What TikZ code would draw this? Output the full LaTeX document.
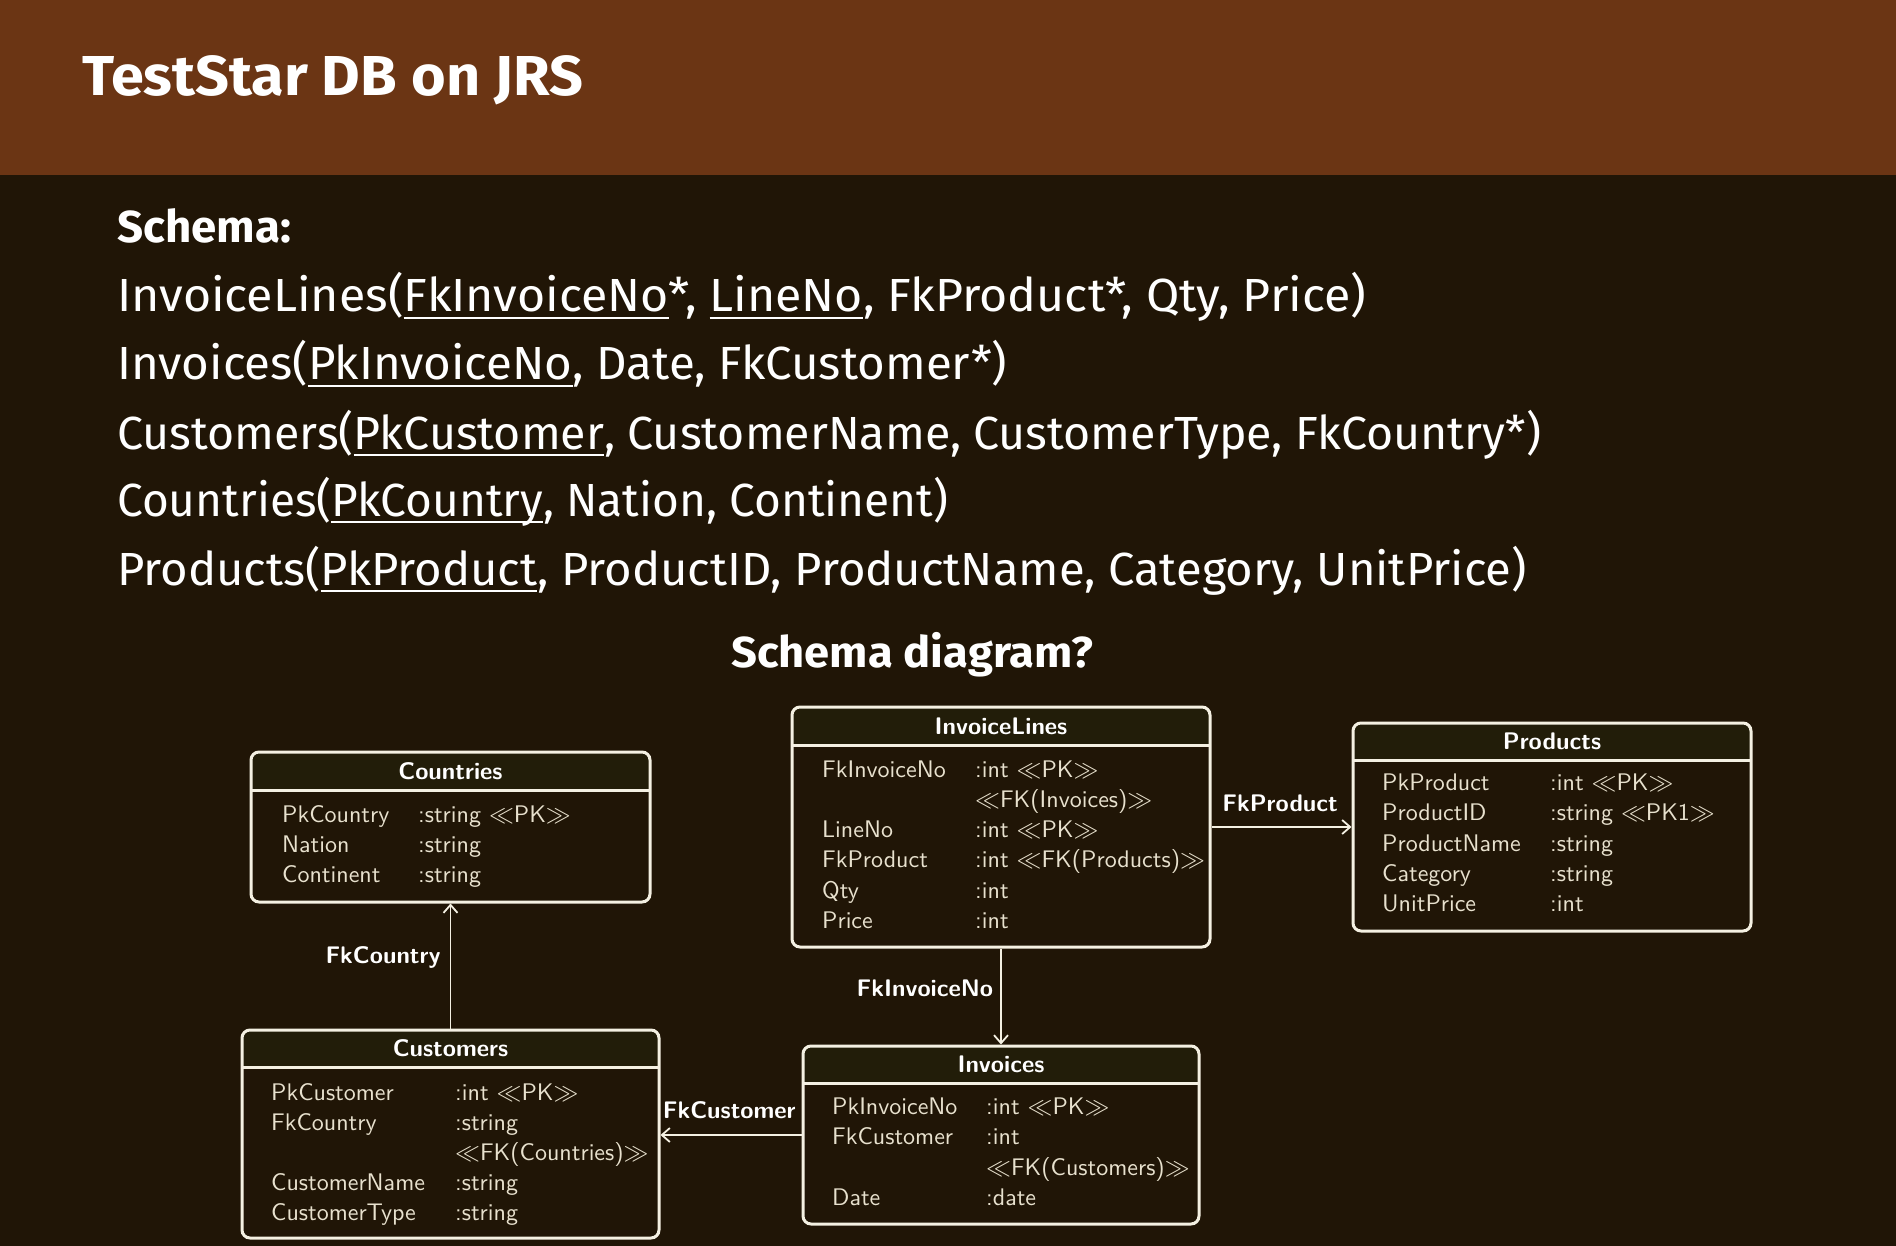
\documentclass[tikz,border=0pt]{standalone}
\usepackage{fontspec}
\usepackage{graphicx}
\newfontfamily\comic{Fira Sans}
\setsansfont{lmsans10-regular.otf}[BoldFont=lmsans10-bold.otf]
\usetikzlibrary{arrows.meta}
\definecolor{bgdark}{HTML}{201506}
\definecolor{band}{HTML}{6B3514}
\definecolor{hdrfill}{HTML}{221D09}
\definecolor{ink}{HTML}{F4F0E2}
\definecolor{attr}{HTML}{E8E1CE}
\newcommand\capfit[3]{\resizebox{#1}{#2}{\raisebox{0pt}[\fontcharht\font`I][0pt]{#3}}}
\newcommand\ulin[1]{\setbox0\hbox{#1}\rlap{\rule[-0.14em]{\wd0}{0.04em}}\box0}
\newcommand\pk{$\ll$PK$\gg$}
\tikzset{
  comictxt/.style={anchor=base west, inner sep=0pt, text=white},
  tblframe/.style={draw=ink, line width=3pt, rounded corners=8pt, inner sep=0pt},
  sepline/.style={draw=ink, line width=3pt},
  tbltitle/.style={anchor=base, inner sep=0pt, text=white, font=\fontsize{24pt}{30pt}\selectfont\sffamily\bfseries},
  attrtxt/.style={anchor=base west, inner sep=0pt, text=attr, font=\fontsize{24pt}{30pt}\selectfont\sffamily},
  fklabel/.style={inner sep=0pt, text=white, font=\fontsize{24pt}{30pt}\selectfont\sffamily\bfseries},
  fk/.style={draw=ink, line width=1.8pt, -{Straight Barb[length=8pt,width=14pt]}},
}
\newcommand\dbbox[7]{%
  \begin{scope}
    \clip[rounded corners=8pt] (#2,#3) rectangle (#4,#5);
    \fill[hdrfill] (#2,#3) rectangle (#4,#6);
  \end{scope}
  \draw[sepline] (#2,#6) -- (#4,#6);
  \node[tblframe, minimum width={#4-#2}, minimum height={#5-#3}] (#1) at ({(#2+#4)/2},{(#3+#5)/2}) {};
  \node[tbltitle] (#1-title) at ({(#2+#4)/2},{(#3+#6)/2+8}) {#7};
}
\begin{document}
\begin{tikzpicture}[x=1pt,y=-1pt]
\useasboundingbox (0,0) rectangle (1896,1246);
\fill[bgdark] (0,0) rectangle (1896,1246);
\fill[band] (0,0) rectangle (1896,175);

\node[comictxt] (title) at (82,96) {\comic\bfseries\capfit{501pt}{39pt}{TestStar DB on JRS}};
\node[comictxt] (schema) at (117,243) {\comic\bfseries\capfit{174pt}{31pt}{Schema:}};
\node[comictxt] (s1) at (117,312) {\comic\capfit{1249pt}{32pt}{InvoiceLines(\ulin{FkInvoiceNo}*, \ulin{LineNo}, FkProduct*, Qty, Price)}};
\node[comictxt] (s2) at (117,380) {\comic\capfit{890pt}{32pt}{Invoices(\ulin{PkInvoiceNo}, Date, FkCustomer*)}};
\node[comictxt] (s3) at (117,449) {\comic\capfit{1424pt}{32pt}{Customers(\ulin{PkCustomer}, CustomerName, CustomerType, FkCountry*)}};
\node[comictxt] (s4) at (117,516) {\comic\capfit{831pt}{32pt}{Countries(\ulin{PkCountry}, Nation, Continent)}};
\node[comictxt] (s5) at (117,585) {\comic\capfit{1409pt}{32pt}{Products(\ulin{PkProduct}, ProductID, ProductName, Category, UnitPrice)}};
\node[comictxt] (sdiag) at (731,667) {\comic\bfseries\capfit{362pt}{30pt}{Schema diagram?}};

% Countries
\dbbox{cty}{251}{752}{650}{902}{790}{Countries}
\node[attrtxt] (cty-a1) at (282,822) {PkCountry};
\node[attrtxt] (cty-t1) at (418,822) {:string \pk};
\node[attrtxt] (cty-a2) at (282,852) {Nation};
\node[attrtxt] (cty-t2) at (418,852) {:string};
\node[attrtxt] (cty-a3) at (282,882) {Continent};
\node[attrtxt] (cty-t3) at (418,882) {:string};

% InvoiceLines
\dbbox{il}{792}{707}{1210}{947}{745}{InvoiceLines}
\node[attrtxt] (il-a1) at (822,777) {FkInvoiceNo};
\node[attrtxt] (il-t1) at (975,777) {:int \pk};
\node[attrtxt] (il-t1b) at (975,807) {$\ll$FK(Invoices)$\gg$};
\node[attrtxt] (il-a2) at (822,837) {LineNo};
\node[attrtxt] (il-t2) at (975,837) {:int \pk};
\node[attrtxt] (il-a3) at (822,867) {FkProduct};
\node[attrtxt] (il-t3) at (975,867) {:int $\ll$FK(Products)$\gg$};
\node[attrtxt] (il-a4) at (822,898) {Qty};
\node[attrtxt] (il-t4) at (975,898) {:int};
\node[attrtxt] (il-a5) at (822,928) {Price};
\node[attrtxt] (il-t5) at (975,928) {:int};

% Products
\dbbox{prod}{1353}{723}{1751}{931}{760}{Products}
\node[attrtxt] (prod-a1) at (1382,790) {PkProduct};
\node[attrtxt] (prod-t1) at (1550,790) {:int \pk};
\node[attrtxt] (prod-a2) at (1382,820) {ProductID};
\node[attrtxt] (prod-t2) at (1550,820) {:string $\ll$PK1$\gg$};
\node[attrtxt] (prod-a3) at (1382,851) {ProductName};
\node[attrtxt] (prod-t3) at (1550,851) {:string};
\node[attrtxt] (prod-a4) at (1382,881) {Category};
\node[attrtxt] (prod-t4) at (1550,881) {:string};
\node[attrtxt] (prod-a5) at (1382,911) {UnitPrice};
\node[attrtxt] (prod-t5) at (1550,911) {:int};

% Customers
\dbbox{cust}{242}{1030}{659}{1238}{1067}{Customers}
\node[attrtxt] (cust-a1) at (271,1100) {PkCustomer};
\node[attrtxt] (cust-t1) at (455,1100) {:int \pk};
\node[attrtxt] (cust-a2) at (271,1130) {FkCountry};
\node[attrtxt] (cust-t2) at (455,1130) {:string};
\node[attrtxt] (cust-t2b) at (455,1160) {$\ll$FK(Countries)$\gg$};
\node[attrtxt] (cust-a3) at (271,1190) {CustomerName};
\node[attrtxt] (cust-t3) at (455,1190) {:string};
\node[attrtxt] (cust-a4) at (271,1220) {CustomerType};
\node[attrtxt] (cust-t4) at (455,1220) {:string};

% Invoices
\dbbox{inv}{803}{1046}{1199}{1224}{1083}{Invoices}
\node[attrtxt] (inv-a1) at (832,1114) {PkInvoiceNo};
\node[attrtxt] (inv-t1) at (986,1114) {:int \pk};
\node[attrtxt] (inv-a2) at (832,1144) {FkCustomer};
\node[attrtxt] (inv-t2) at (986,1144) {:int};
\node[attrtxt] (inv-t2b) at (986,1175) {$\ll$FK(Customers)$\gg$};
\node[attrtxt] (inv-a3) at (832,1205) {Date};
\node[attrtxt] (inv-t3) at (986,1205) {:date};

% connectors
\draw[fk] (cust.north) -- (cty.south) node[fklabel, pos=0.57, anchor=east, xshift=-9pt] {FkCountry};
\draw[fk] (il.south) -- (inv.north) node[fklabel, pos=0.41, anchor=east, xshift=-7pt] {FkInvoiceNo};
\draw[fk] (il.east) -- (prod.west) node[fklabel, pos=0.49, anchor=base, yshift=16pt] {FkProduct};
\draw[fk] (inv.west) -- (inv.west -| cust.east) node[fklabel, pos=0.035, anchor=base east, yshift=17pt] {FkCustomer};
\end{tikzpicture}
\end{document}
